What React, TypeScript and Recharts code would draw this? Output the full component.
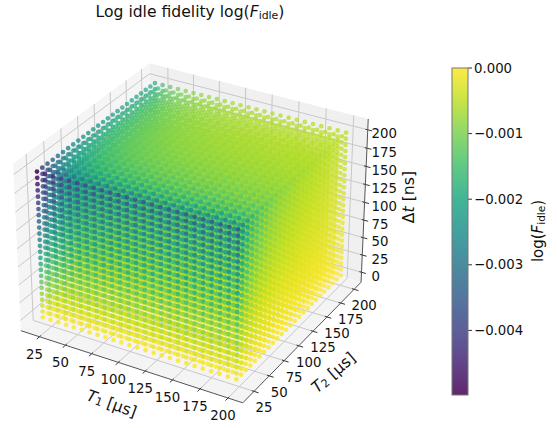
import React from "react";
import { ScatterChart, Scatter, XAxis, YAxis } from "recharts";

// NOTE: the chart holds a 25x25x25 lattice (about 15,625 points), which cannot be read point by point.
// The lattice coordinates and the two "loss" lists below are estimates from the picture.
// Each point's colour value is COMBINED from those lists (loss scaled by dt share), not read individually.
const T1_VALUES = [20,27.5,35,42.5,50,57.5,65,72.5,80,87.5,95,102.5,110,117.5,125,132.5,140,147.5,155,162.5,170,177.5,185,192.5,200];
const T2_VALUES = [20,27.5,35,42.5,50,57.5,65,72.5,80,87.5,95,102.5,110,117.5,125,132.5,140,147.5,155,162.5,170,177.5,185,192.5,200];
const DT_VALUES = [0,8.3,16.7,25,33.3,41.7,50,58.3,66.7,75,83.3,91.7,100,108.3,116.7,125,133.3,141.7,150,158.3,166.7,175,183.3,191.7,200];
const T1_LOSS_AT_MAX_DT = [.00167,.00121,.00095,.00078,.00067,.00058,.00051,.00046,.00042,.00038,.00035,.00033,.0003,.00028,.00027,.00025,.00024,.00023,.00022,.00021,.0002,.00019,.00018,.00017,.00017];
const T2_LOSS_AT_MAX_DT = [.00333,.00242,.0019,.00157,.00133,.00116,.00103,.00092,.00083,.00076,.0007,.00065,.00061,.00057,.00053,.0005,.00048,.00045,.00043,.00041,.00039,.00038,.00036,.00035,.00033];
const X_TICKS = [25,50,75,100,125,150,175,200];
const Y_TICKS = [25,50,75,100,125,150,175,200];
const Z_TICKS = [0,25,50,75,100,125,150,175,200];
const CBAR_TICKS = [0,-0.001,-0.002,-0.003,-0.004];
const VMIN = -0.00498;
const VIRIDIS = ["#440154","#482475","#414487","#355f8d","#2a788e","#21918c","#22a884","#44bf70","#7ad151","#bddf26","#fde725"];

const W = 557, H = 428;
const XL: [number, number] = [6.9, 213.1], YL: [number, number] = [6.9, 213.1], ZL: [number, number] = [-14.6, 214.6];
const FONT = "'DejaVu Sans'";

function depth(a: number, b: number, c: number) {
  const X = ((a - XL[0]) / (XL[1] - XL[0]) - 0.5) * 1.1428;
  const Y = ((b - YL[0]) / (YL[1] - YL[0]) - 0.5) * 1.1428;
  const Z = ((c - ZL[0]) / (ZL[1] - ZL[0]) - 0.5) * 0.8572;
  return { u: 0.866 * X + 0.5 * Y, v: -0.25 * X + 0.433 * Y + 0.866 * Z, d: 0.433 * X - 0.75 * Y + 0.5 * Z };
}
function proj(a: number, b: number, c: number) {
  const { u, v, d } = depth(a, b, c);
  const f = 1 / (10 - d);
  return { x: 194 + 2225 * u * f, y: 225.2 - 2225 * v * f };
}
function hexToRgb(h: string) {
  return [1, 3, 5].map((i) => parseInt(h.slice(i, i + 2), 16));
}
function viridis(t: number) {
  const p = Math.max(0, Math.min(1, t)) * 10;
  const i = Math.min(9, Math.floor(p));
  const a = hexToRgb(VIRIDIS[i]), b = hexToRgb(VIRIDIS[i + 1]);
  const k = p - i;
  return `rgb(${a.map((c, n) => Math.round(c + (b[n] - c) * k)).join(",")})`;
}

type Pt = { x: number; y: number; fill: string; op: number; d: number };
const points: Pt[] = [];
T1_VALUES.forEach((a, i) => T2_VALUES.forEach((b, j) => DT_VALUES.forEach((c) => {
  const v = -(T1_LOSS_AT_MAX_DT[i] + T2_LOSS_AT_MAX_DT[j]) * (c / 200);
  const p = proj(a, b, c);
  points.push({ x: p.x, y: p.y, fill: viridis((v - VMIN) / -VMIN), op: 0, d: depth(a, b, c).d });
})));
const dMin = Math.min(...points.map((p) => p.d)), dMax = Math.max(...points.map((p) => p.d));
points.forEach((p) => { p.op = 0.6 + 0.35 * (p.d - dMin) / (dMax - dMin); });
points.sort((a, b) => a.d - b.d);

const corner = { A: proj(XL[0], YL[0], ZL[0]), B: proj(XL[1], YL[0], ZL[0]), C: proj(XL[1], YL[1], ZL[0]), D: proj(XL[1], YL[1], ZL[1]), E: proj(XL[0], YL[1], ZL[1]), F: proj(XL[0], YL[0], ZL[1]), G: proj(XL[0], YL[1], ZL[0]) };
const poly = (ps: { x: number; y: number }[]) => ps.map((p) => `${p.x},${p.y}`).join(" ");
const panes = [
  { x: corner.A.x, y: corner.A.y, points: poly([corner.A, corner.F, corner.E, corner.G]), fill: "#f5f5f5" },
  { x: corner.G.x, y: corner.G.y, points: poly([corner.G, corner.C, corner.D, corner.E]), fill: "#f0f0f0" },
  { x: corner.B.x, y: corner.B.y, points: poly([corner.A, corner.B, corner.C, corner.G]), fill: "#f4f4f4" },
];

type Seg = { x: number; y: number; x2: number; y2: number; stroke: string; sw: number };
const seg = (p: { x: number; y: number }, q: { x: number; y: number }, stroke: string, sw: number): Seg => ({ x: p.x, y: p.y, x2: q.x, y2: q.y, stroke, sw });
const GRID = "#c8c8c8";
const lines: Seg[] = [];
X_TICKS.forEach((t) => {
  lines.push(seg(proj(t, YL[0], ZL[0]), proj(t, YL[1], ZL[0]), GRID, 1));
  lines.push(seg(proj(t, YL[1], ZL[0]), proj(t, YL[1], ZL[1]), GRID, 1));
  lines.push(seg(proj(t, YL[0] - 4, ZL[0]), proj(t, YL[0] + 2, ZL[0]), "#333", 1));
});
Y_TICKS.forEach((t) => {
  lines.push(seg(proj(XL[0], t, ZL[0]), proj(XL[1], t, ZL[0]), GRID, 1));
  lines.push(seg(proj(XL[0], t, ZL[0]), proj(XL[0], t, ZL[1]), GRID, 1));
  lines.push(seg(proj(XL[1] - 2, t, ZL[0]), proj(XL[1] + 4, t, ZL[0]), "#333", 1));
});
Z_TICKS.forEach((t) => {
  lines.push(seg(proj(XL[0], YL[0], t), proj(XL[0], YL[1], t), GRID, 1));
  lines.push(seg(proj(XL[0], YL[1], t), proj(XL[1], YL[1], t), GRID, 1));
  lines.push(seg(proj(XL[1] - 2, YL[1], t), proj(XL[1] + 4, YL[1], t), "#333", 1));
});
lines.push(seg(corner.A, corner.B, "#555", 1), seg(corner.B, corner.C, "#555", 1), seg(corner.C, corner.D, "#555", 1));

const cbarY = (v: number) => 68 + -v * 65600;
const CB = { x0: 452, x1: 468, y0: 68, y1: 395 };
CBAR_TICKS.forEach((v) => lines.push(seg({ x: CB.x1, y: cbarY(v) }, { x: CB.x1 + 4, y: cbarY(v) }, "#333", 1)));

type Label = { x: number; y: number; text: string; anchor: string; size: number; rot?: number; kind?: string };
const labels: Label[] = [];
X_TICKS.forEach((t) => { const p = proj(t, YL[0], ZL[0]); labels.push({ x: p.x - 5, y: p.y + 17.5, text: String(t), anchor: "middle", size: 13.3 }); });
Y_TICKS.forEach((t) => { const p = proj(XL[1], t, ZL[0]); labels.push({ x: p.x + 10, y: p.y + 16.5, text: String(t), anchor: "middle", size: 13.3 }); });
Z_TICKS.forEach((t) => { const p = proj(XL[1], YL[1], t); labels.push({ x: 371.5, y: p.y + 4, text: String(t), anchor: "start", size: 13.3 }); });
CBAR_TICKS.forEach((v) => labels.push({ x: 474, y: cbarY(v), text: v === 0 ? "0.000" : "\u2212" + (-v).toFixed(3), anchor: "start", size: 13.3 }));
labels.push({ x: 190, y: 12, text: "", anchor: "middle", size: 15.6, kind: "title" });
labels.push({ x: 538, y: 231, text: "", anchor: "middle", size: 15, rot: -90, kind: "cbar" });
labels.push({ x: 112, y: 403, text: "1", anchor: "middle", size: 15.7, rot: 20, kind: "t" });
labels.push({ x: 333, y: 372, text: "2", anchor: "middle", size: 15.7, rot: -41, kind: "t" });
labels.push({ x: 408, y: 197, text: "", anchor: "middle", size: 15.7, rot: -90, kind: "dt" });

const Dot = (p: any) => <circle cx={p.cx} cy={p.cy} r={2.35} fill={p.payload.fill} fillOpacity={p.payload.op} />;
const Pane = (p: any) => <polygon points={p.payload.points} fill={p.payload.fill} stroke="none" />;
const LineShape = (p: any) => <line x1={p.payload.x} y1={p.payload.y} x2={p.payload.x2} y2={p.payload.y2} stroke={p.payload.stroke} strokeWidth={p.payload.sw} />;
const Sub = ({ text, after, size }: { text: string; after: string; size: number }) => (
  <>
    <tspan dy={size * 0.2} fontSize={size * 0.7}>{text}</tspan>
    <tspan dy={-size * 0.2}>{after}</tspan>
  </>
);
const LabelShape = (p: any) => {
  const l: Label = p.payload;
  const body = l.kind === "title" ? (
    <>Log idle fidelity log(<tspan fontStyle="italic">F</tspan><Sub size={l.size} text="idle" after=")" /></>
  ) : l.kind === "cbar" ? (
    <>log(<tspan fontStyle="italic">F</tspan><Sub size={l.size} text="idle" after=")" /></>
  ) : l.kind === "t" ? (
    <><tspan fontStyle="italic">T</tspan><Sub size={l.size} text={l.text} after={" [\u03bcs]"} /></>
  ) : l.kind === "dt" ? (
    <>{"\u0394"}<tspan fontStyle="italic">t</tspan>{" [ns]"}</>
  ) : l.text;
  return (
    <text x={l.x} y={l.y} textAnchor={l.anchor as any} dominantBaseline="central" fontSize={l.size} fontFamily={FONT} fill="#111"
      transform={l.rot ? `rotate(${l.rot} ${l.x} ${l.y})` : undefined}>{body}</text>
  );
};
const CbarShape = () => (
  <g>
    <defs>
      <linearGradient id="cbarGrad" x1="0" y1="1" x2="0" y2="0">
        {VIRIDIS.map((c, i) => <stop key={c} offset={i / 10} stopColor={c} />)}
      </linearGradient>
    </defs>
    <rect x={CB.x0} y={CB.y0} width={CB.x1 - CB.x0} height={CB.y1 - CB.y0} fill="url(#cbarGrad)" fillOpacity={0.85} stroke="#777" strokeWidth={1} />
  </g>
);
const cbarRow = [{ x: CB.x0, y: CB.y0 }];

export default function App() {
  return (
    <div style={{ position: "absolute", left: 0, top: 0, width: W, height: H }}>
      <ScatterChart width={W} height={H} margin={{ top: 0, right: 0, bottom: 0, left: 0 }}>
        <XAxis type="number" dataKey="x" domain={[0, W]} hide />
        <YAxis type="number" dataKey="y" domain={[0, H]} reversed hide />
        <Scatter data={panes} shape={Pane} isAnimationActive={false} />
        <Scatter data={lines} shape={LineShape} isAnimationActive={false} />
        <Scatter data={points} shape={Dot} isAnimationActive={false} />
        <Scatter data={cbarRow} shape={CbarShape} isAnimationActive={false} />
        <Scatter data={labels} shape={LabelShape} isAnimationActive={false} />
      </ScatterChart>
    </div>
  );
}
